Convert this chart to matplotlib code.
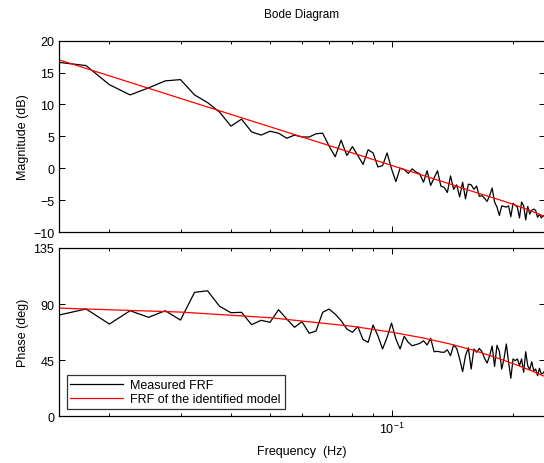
import numpy as np
import matplotlib
matplotlib.use('Agg')
import matplotlib.pyplot as plt
from matplotlib.ticker import FixedLocator, NullFormatter, LogFormatterSciNotation

plt.rcParams['font.family'] = ['Liberation Sans', 'DejaVu Sans']
plt.rcParams['mathtext.fontset'] = 'custom'
plt.rcParams['mathtext.rm'] = 'Liberation Sans'

# frequency grid of the measured FRF (df = 0.0025 Hz)
f_step = 0.0025
freq = f_step * np.arange(6, 97)

# measured FRF, magnitude (dB)
mag_meas = [16.6, 16.1, 13.1, 11.5, 12.6, 13.7, 13.9, 11.5, 10.3, 8.8,
            6.6, 7.7, 5.7, 5.2, 5.8, 5.5, 4.7, 5.2, 4.9, 4.9,
            5.4, 5.5, 3.5, 1.8, 4.4, 2.0, 3.4, 2.0, 0.6, 2.9,
            2.4, 0.2, 0.4, 2.4, -0.1, -2.1, 0.0, -0.2, -0.8, -0.1,
            -0.6, -0.9, -2.2, -0.4, -2.7, -1.5, -0.4, -2.8, -3.0, -3.8,
            -1.2, -3.3, -2.6, -4.5, -2.2, -4.8, -2.5, -2.6, -3.3, -2.8,
            -4.4, -4.3, -4.7, -5.2, -4.3, -3.1, -5.3, -6.1, -7.4, -5.9,
            -6.0, -6.1, -5.9, -7.6, -5.5, -5.8, -6.1, -7.8, -5.3, -5.9,
            -8.1, -6.0, -7.2, -6.6, -6.4, -6.6, -7.7, -7.2, -7.8, -7.4,
            -7.6]

# measured FRF, phase (deg)
ph_meas = [81.2, 86.1, 74.0, 84.7, 79.4, 84.7, 77.2, 99.4, 100.7, 88.2,
           83.1, 83.4, 73.5, 77.0, 75.4, 85.5, 78.0, 71.4, 75.9, 66.6,
           68.4, 83.4, 86.0, 82.0, 76.7, 70.0, 67.4, 72.0, 61.5, 59.3,
           73.2, 64.6, 54.0, 63.4, 74.8, 62.0, 54.0, 64.2, 59.3, 56.6,
           57.5, 58.5, 60.6, 57.2, 62.5, 51.8, 52.1, 51.5, 51.3, 53.4,
           48.6, 57.2, 54.5, 46.0, 35.8, 48.6, 55.0, 37.9, 54.0, 51.3,
           54.5, 51.8, 46.5, 42.7, 48.6, 56.4, 40.0, 57.0, 52.0, 37.9,
           46.5, 58.0, 43.3, 30.5, 46.0, 44.6, 46.0, 40.6, 46.0, 35.3,
           51.8, 40.6, 37.4, 43.8, 36.6, 37.9, 32.6, 38.5, 33.9, 34.7,
           37.0]

# identified model FRF
freq_model = [0.015, 0.03, 0.05, 0.08, 0.1, 0.12, 0.14, 0.16, 0.18, 0.2, 0.22, 0.24]
mag_model = [17.0, 10.95, 6.5, 2.4, 0.45, -1.15, -2.5, -3.7, -4.7, -5.65, -6.6, -7.6]
ph_model = [86.8, 83.6, 79.1, 72.2, 67.5, 62.8, 57.9, 52.9, 47.5, 42.3, 37.1, 31.9]

W, H = 544, 464
fig = plt.figure(figsize=(W / 100, H / 100), dpi=100)
ax1 = fig.add_axes([59 / W, 1 - 233 / H, 486 / W, 191.3 / H])
ax2 = fig.add_axes([59 / W, 1 - 417.3 / H, 486 / W, 168.3 / H])

ax1.semilogx(freq, mag_meas, color='black', lw=0.9, label='Measured FRF')
ax1.semilogx(freq_model, mag_model, color='red', lw=0.9, label='FRF of the identified model')
ax2.semilogx(freq, ph_meas, color='black', lw=0.9, label='Measured FRF')
ax2.semilogx(freq_model, ph_model, color='red', lw=0.9, label='FRF of the identified model')

minor = [0.02, 0.03, 0.04, 0.05, 0.06, 0.07, 0.08, 0.09, 0.2]
for ax in (ax1, ax2):
    ax.set_xlim(0.015, 0.24)
    ax.xaxis.set_major_locator(FixedLocator([0.1]))
    ax.xaxis.set_minor_locator(FixedLocator(minor))
    ax.xaxis.set_minor_formatter(NullFormatter())
    ax.tick_params(which='both', direction='in', top=True, right=True,
                   labelsize=9, width=0.7)
    ax.tick_params(which='major', length=4.5)
    ax.tick_params(which='minor', length=2.5)
    for s in ax.spines.values():
        s.set_linewidth(0.9)

ax1.set_ylim(-10, 20)
ax1.set_yticks([-10, -5, 0, 5, 10, 15, 20])
ax1.set_yticklabels(['\u221210', '\u22125', '0', '5', '10', '15', '20'])
ax1.xaxis.set_major_formatter(NullFormatter())
ax1.set_ylabel('Magnitude (dB)', fontsize=9, labelpad=3)
ax1.set_title('Bode Diagram', fontsize=8.5, pad=17)

ax2.set_ylim(0, 135)
ax2.set_yticks([0, 45, 90, 135])
ax2.xaxis.set_major_formatter(LogFormatterSciNotation())
ax2.set_ylabel('Phase (deg)', fontsize=9, labelpad=3)
ax2.set_xlabel('Frequency  (Hz)', fontsize=9, labelpad=6)

leg = ax2.legend(loc='lower left', fontsize=9, frameon=True, fancybox=False,
                 borderaxespad=0.6, handlelength=4.2, handletextpad=0.6,
                 borderpad=0.3, labelspacing=0.15)
leg.get_frame().set_edgecolor('black')
leg.get_frame().set_linewidth(0.9)

fig.savefig('out.png', dpi=100)
